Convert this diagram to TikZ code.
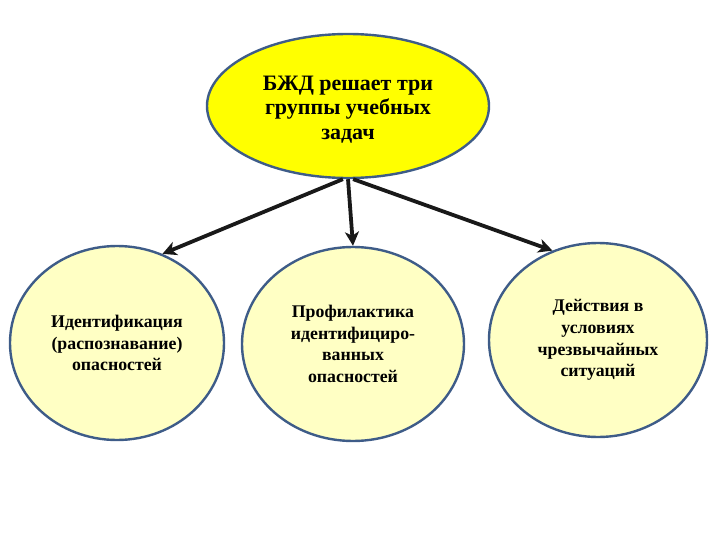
\documentclass[tikz,border=0pt]{standalone}
\usepackage{fontspec}
\setmainfont{Liberation Serif}
\usetikzlibrary{shapes.geometric,arrows.meta}
\definecolor{rimblue}{HTML}{3E5C88}
\definecolor{topyellow}{HTML}{FFFF00}
\definecolor{paleyellow}{HTML}{FFFFC4}
\tikzset{
  topoval/.style={ellipse, draw=rimblue, line width=2.4pt, fill=topyellow,
    minimum width=282pt, minimum height=144pt, inner sep=0pt, align=center,
    font=\fontsize{22}{24.5}\selectfont\bfseries},
  taskcircle/.style={ellipse, draw=rimblue, line width=2.4pt, fill=paleyellow,
    minimum width=214pt, minimum height=194pt, inner sep=0pt, align=center,
    font=\fontsize{17.8}{21.7}\selectfont\bfseries},
  arr/.style={line width=3.8pt, black!90, -{Stealth[length=14pt,width=14pt,inset=4pt]}}
}
\begin{document}
\begin{tikzpicture}[x=1pt,y=-1pt]
\useasboundingbox (0,0) rectangle (720,540);
\node[topoval] (top) at (348,106) {\raisebox{-4pt}[\height][\depth]{\begin{tabular}{@{}c@{}}БЖД решает три\\группы учебных\\задач\end{tabular}}};
\node[taskcircle] (L) at (117,343) {Идентификация\\(распознавание)\\опасностей};
\node[taskcircle, minimum width=222pt] (M) at (353,344) {Профилактика\\идентифициро-\\ванных\\опасностей};
\node[taskcircle, minimum width=218pt] (R) at (598,340) {Действия в\\условиях\\чрезвычайных\\ситуаций};
\draw[arr] (top.266) -- (L.63);
\draw[arr] (top.south) -- (M.north);
\draw[arr] (top.-86) -- (R.117);
\end{tikzpicture}
\end{document}
